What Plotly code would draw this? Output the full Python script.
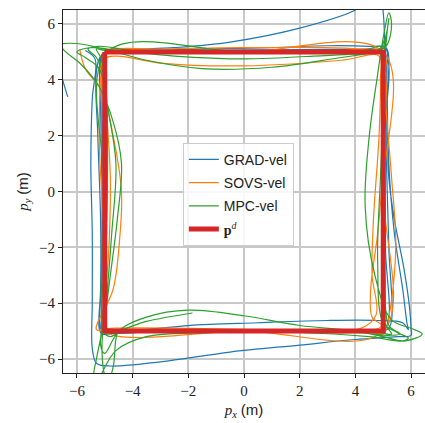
import plotly.graph_objects as go

# ---------------- data ----------------
series_names = ["GRAD-vel", "SOVS-vel", "MPC-vel"]
series_colors = ["#1f77b4", "#ff7f0e", "#2ca02c"]
ref_color = "#d62728"

# reference square p^d
ref_x = [-5, 5, 5, -5, -5]
ref_y = [5, 5, -5, -5, 5]

# GRAD-vel trajectory (x, y), None = break
grad_path = [
    (-6.33, 3.39), (-6.5, 3.95), (-6.65, 4.5), (None, None),
    (-5.7, 5.05), (-5.35, 4.75), (-5.45, 3.3), (-5.5, 1.0), (-5.45, -1.5), (-5.45, -4.0),
    (-5.45, -5.6), (-5.3, -6.15), (-4.8, -6.25), (-3.0, -6.1), (-0.5, -5.75), (2.0, -5.5),
    (4.0, -5.3), (5.5, -5.2), (6.0, -5.15), (6.0, -4.9), (5.95, -4.2), (5.75, -2.8),
    (5.4, -1.0), (5.2, 0.5), (5.15, 2.5), (5.1, 4.5), (5.05, 5.5), (5.0, 6.4), (4.9, 7.0),
    (4.5, 6.9), (4.0, 6.5), (2.0, 5.85), (-0.5, 5.35), (-2.5, 5.15), (-4.5, 5.05), (-5.1, 4.9),
    (-5.3, 4.3), (-5.25, 2.0), (-5.15, -1.0), (-5.15, -3.5), (-5.2, -4.9), (-5.1, -5.1),
    (-4.5, -5.05), (-2.0, -4.8), (0.5, -4.7), (3.0, -4.62), (4.8, -4.62), (5.7, -4.7),
    (5.9, -4.95), (5.85, -4.7), (5.7, -3.5), (5.4, -1.5), (5.2, 1.0), (5.15, 3.5), (5.2, 4.8),
    (5.1, 5.15), (4.5, 5.2), (3.0, 5.22), (1.0, 5.15), (-1.5, 5.1), (-4.0, 5.05), (-5.0, 5.0),
    (-5.15, 4.8), (-5.15, 3.0), (-5.1, 0.0), (-5.1, -3.0), (-5.15, -4.9), (-5.0, -5.05),
    (-3.0, -5.0), (0.0, -4.95), (3.0, -4.95), (5.0, -5.0), (5.25, -4.8), (5.2, -2.0),
    (5.12, 1.0), (5.1, 4.0), (5.1, 5.1), (4.8, 5.1), (2.0, 5.08), (-1.0, 5.05), (-4.0, 5.02),
    (-5.05, 4.95), (-5.1, 4.0), (-5.05, 0.0), (-5.05, -4.0), (-5.05, -5.0), (-4.0, -5.0),
    (0.0, -5.0), (4.0, -5.0), (5.05, -4.95), (5.08, -2.0), (5.05, 2.0), (5.05, 4.95),
    (4.0, 5.0), (0.0, 5.0), (-4.0, 5.0), (-5.0, 5.0),
]

# SOVS-vel trajectory
sovs_path = [
    (-5.9, 5.1), (-5.7, 4.4), (-5.1, 3.6), (-4.7, 2.0), (-4.4, 0.0), (-4.45, -1.5),
    (-4.7, -3.5), (-5.3, -4.95), (-4.8, -4.9), (-2.0, -4.9), (1.0, -4.95), (4.2, -4.9),
    (4.75, -4.4), (4.6, -3.0), (4.65, -1.0), (4.85, 2.0), (4.9, 4.0), (4.85, 4.85),
    (3.5, 4.7), (0.0, 4.5), (-3.0, 4.6), (-4.6, 4.85), (-5.1, 4.7),
    (-4.95, 3.0), (-4.8, 0.5), (-4.85, -2.0), (-5.0, -4.3), (-4.9, -4.95), (-3.0, -4.95),
    (0.0, -5.0), (3.0, -5.0), (4.6, -5.05), (5.0, -5.1), (5.2, -4.5), (5.45, -2.0),
    (5.3, 0.5), (5.1, 3.0), (5.05, 4.8), (4.5, 5.05), (0.0, 5.15), (-3.0, 5.1), (-4.9, 5.05),
    (-5.05, 4.8), (-5.2, 2.0), (-5.05, -1.0), (-4.95, -3.5), (-5.0, -4.95), (-4.5, -5.0),
    (0.0, -5.0), (4.5, -5.0), (4.95, -4.8), (4.6, -4.5), (4.55, -3.5), (4.8, -1.5),
    (5.0, 1.0), (5.0, 4.0), (4.95, 5.0), (3.0, 5.0), (0.0, 5.02), (-3.0, 5.0), (-5.0, 5.0),
    (-5.0, 4.0), (-5.05, 0.0), (-5.0, -4.0), (-5.0, -5.0), (0.0, -5.0), (5.0, -5.0),
    (5.0, 0.0), (5.0, 5.0), (0.0, 5.0), (-4.0, 5.0),
]

# MPC-vel trajectory
mpc_path = [
    (4.9, 5.0), (3.5, 4.8), (1.0, 4.45), (-1.5, 4.4), (-3.5, 4.7), (-5.0, 5.1), (-6.0, 5.3),
    (-6.6, 5.25), (-6.4, 5.0), (-5.9, 4.6), (-5.2, 3.75), (-4.7, 2.5), (-4.4, 1.0),
    (-4.55, -1.0), (-4.8, -3.0), (-5.0, -4.5), (-5.3, -6.0), (-5.4, -6.6), (-5.3, -6.9),
    (-5.15, -6.6), (-4.6, -5.7), (-3.5, -5.2), (-1.0, -5.05), (2.0, -5.05), (4.5, -5.2),
    (5.8, -5.35), (6.4, -5.1), (6.0, -4.9), (5.3, -4.6), (4.7, -3.0), (4.35, -0.5),
    (4.5, 2.0), (4.8, 4.2), (5.0, 5.5), (5.2, 6.4), (5.3, 6.0), (5.1, 5.2), (4.6, 5.0),
    (2.5, 4.85), (0.0, 4.75), (-2.5, 4.85), (-4.5, 5.05), (-5.5, 5.15), (-6.0, 5.0),
    (-5.7, 4.8), (-5.2, 4.4), (-4.9, 3.0), (-4.6, 1.0), (-4.75, -1.5), (-4.95, -4.0),
    (-5.1, -5.5), (-5.0, -6.6), (-4.9, -6.8), (-4.7, -6.3), (-4.6, -5.3), (-4.5, -5.0),
    (-3.5, -4.5), (-2.0, -4.25), (0.0, -4.45), (2.0, -4.8), (4.0, -5.0), (5.0, -5.2),
    (5.7, -5.35), (5.9, -5.25), (5.5, -5.05), (5.0, -4.7), (4.8, -2.5), (4.9, 0.5),
    (5.0, 3.0), (5.05, 4.6), (5.15, 5.8), (5.2, 6.2), (5.1, 5.6), (4.8, 5.05), (2.0, 5.0),
    (-1.0, 5.0), (-4.0, 5.05), (-5.2, 5.2), (-5.6, 5.1), (-5.3, 4.8), (-5.0, 4.0),
    (-4.9, 1.5), (-4.95, -2.0), (-5.05, -4.5), (-5.15, -5.5), (-5.0, -5.8), (-4.7, -5.3),
    (-4.5, -5.05), (-2.0, -5.0), (1.0, -5.0), (4.0, -5.05), (5.2, -5.15), (5.6, -5.1),
    (5.2, -4.8), (5.05, -3.0), (4.95, 0.0), (5.0, 3.0), (5.05, 5.0), (5.1, 5.5), (4.9, 5.05),
    (2.0, 5.05), (-2.0, 5.02), (-5.0, 5.05), (-5.3, 5.1), (-5.1, 4.7), (-5.0, 2.0),
    (-5.0, -2.0), (-5.05, -5.0), (-4.8, -5.2), (-4.5, -5.05), (0.0, -5.02), (4.8, -5.05),
    (5.3, -5.1), (5.05, -4.7), (5.0, 0.0), (5.0, 4.8), (5.05, 5.2), (4.0, 5.0), (0.0, 5.0),
    (-4.9, 5.0), (-5.0, 0.0), (-5.0, -4.8), (-4.7, -5.0), (-3.5, -4.65), (-1.85, -4.35),
]

tick_vals = [-6, -4, -2, 0, 2, 4, 6]
tick_text = ["\u22126", "\u22124", "\u22122", "0", "2", "4", "6"]
axis_range = [-6.5, 6.5]

# ---------------- figure ----------------
SERIF = "Liberation Serif"
SANS = "Liberation Sans"

fig = go.Figure()
paths = [grad_path, sovs_path, mpc_path]
for name, color, path in zip(series_names, series_colors, paths):
    fig.add_trace(go.Scatter(
        x=[p[0] for p in path], y=[p[1] for p in path],
        mode="lines", name=name, legendgroup=name,
        line=dict(color=color, width=1.2, shape="spline", smoothing=1.0),
        connectgaps=False, hoverinfo="skip",
    ))

fig.add_trace(go.Scatter(
    x=ref_x, y=ref_y, mode="lines", legendgroup="ref",
    name=f"<span style='font-family:{SERIF}'><b>p</b><sup><i>d</i></sup></span>",
    line=dict(color=ref_color, width=5), hoverinfo="skip",
))

axis_common = dict(
    range=axis_range, tickvals=tick_vals, ticktext=tick_text,
    showgrid=True, gridcolor="#c8c8c8", gridwidth=1.5,
    zeroline=False, showline=True, linecolor="#222222", linewidth=1.2, mirror=True,
    ticks="outside", ticklen=4, tickwidth=1.2, tickcolor="#222222",
    tickfont=dict(family=SERIF, size=15, color="#222222"),
)

fig.update_layout(
    width=425, height=423,
    margin=dict(l=63, r=0, t=10, b=50),
    paper_bgcolor="white", plot_bgcolor="white",
    xaxis=dict(**axis_common,
               title=dict(text=f"<i>p</i><sub><i>x</i></sub> <span style='font-family:{SANS}'>(m)</span>",
                          font=dict(family=SERIF, size=15, color="#222222"), standoff=6)),
    yaxis=dict(**axis_common,
               title=dict(text=f"<i>p</i><sub><i>y</i></sub> <span style='font-family:{SANS}'>(m)</span>",
                          font=dict(family=SERIF, size=15, color="#222222"), standoff=6)),
    legend=dict(
        x=0.331, y=0.634, xanchor="left", yanchor="top",
        bgcolor="rgba(255,255,255,0.85)", bordercolor="#cccccc", borderwidth=1,
        font=dict(family=SANS, size=14, color="#222222"),
        tracegroupgap=2,
    ),
    showlegend=True,
)

fig.write_html("out.html",
               config={"displayModeBar": False},
               post_script="document.body.style.margin='0';document.body.style.padding='0';")
